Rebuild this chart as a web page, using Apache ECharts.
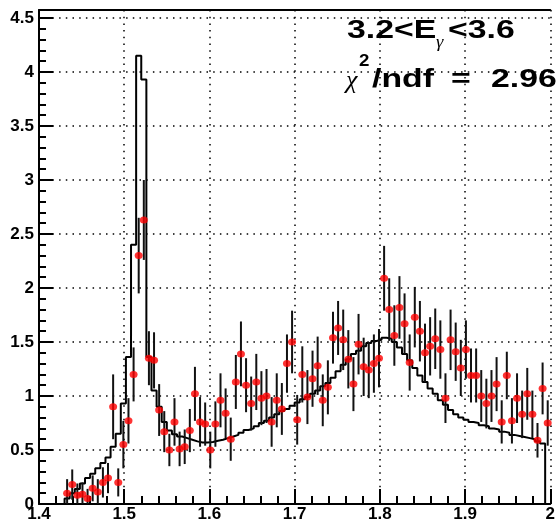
<!DOCTYPE html>
<html>
<head>
<meta charset="utf-8">
<script src="https://cdn.jsdelivr.net/npm/echarts@6/dist/echarts.min.js"></script>
<style>
  html, body { margin: 0; padding: 0; background: #ffffff; }
  #chart { width: 558px; height: 524px; }
</style>
</head>
<body>
<div id="chart"></div>
<script>
// Axis ranges and binning (100 bins of 0.006 between 1.4 and 2.0)
const xMin = 1.4, xMax = 2.0, binWidth = 0.006;
const yMin = 0, yMax = 4.574;
const xMajorStep = 0.1, yMajorStep = 0.5;
const xTickLabels = ['1.4', '1.5', '1.6', '1.7', '1.8', '1.9', '2'];
const yTickLabels = ['0', '0.5', '1', '1.5', '2', '2.5', '3', '3.5', '4', '4.5'];

// Measured data points: first filled bin index, values and errors per bin
const firstPointBin = 5;
const pointValues = [
  0.10, 0.18, 0.08, 0.09, 0.05, 0.145, 0.11, 0.20, 0.24, 0.90,
  0.20, 0.55, 0.77, 1.20, 2.30, 2.63, 1.35, 1.33, 0.87, 0.67,
  0.50, 0.76, 0.51, 0.53, 0.68, 1.02, 0.76, 0.74, 0.50, 0.74,
  0.96, 0.84, 0.60, 1.13, 1.39, 1.10, 0.93, 1.13, 0.98, 1.00,
  0.76, 0.96, 0.88, 1.30, 1.50, 0.78, 1.20, 0.99, 1.16, 1.28,
  0.96, 1.08, 1.54, 1.63, 1.52, 1.34, 1.11, 1.48, 1.27, 1.24,
  1.30, 1.35, 2.09, 1.80, 1.56, 1.82, 1.67, 1.31, 1.73, 1.60,
  1.40, 1.46, 1.53, 1.43, 0.98, 1.52, 1.41, 1.26, 1.43, 1.19,
  1.19, 1.00, 0.93, 1.00, 1.11, 0.76, 1.19, 0.77, 0.98, 0.83,
  1.02, 0.83, 0.59, 1.07, 0.75
];
const pointErrors = [
  0.13, 0.14, 0.11, 0.11, 0.09, 0.12, 0.12, 0.14, 0.14, 0.30,
  0.13, 0.22, 0.21, 0.25, 0.35, 0.37, 0.25, 0.26, 0.24, 0.19,
  0.15, 0.22, 0.16, 0.16, 0.20, 0.25, 0.23, 0.20, 0.17, 0.21,
  0.25, 0.23, 0.20, 0.25, 0.30, 0.25, 0.25, 0.26, 0.25, 0.25,
  0.23, 0.25, 0.24, 0.27, 0.29, 0.23, 0.26, 0.25, 0.26, 0.27,
  0.24, 0.25, 0.24, 0.25, 0.28, 0.27, 0.25, 0.28, 0.27, 0.26,
  0.27, 0.27, 0.30, 0.29, 0.28, 0.29, 0.28, 0.26, 0.28, 0.28,
  0.27, 0.27, 0.28, 0.27, 0.23, 0.28, 0.27, 0.26, 0.27, 0.25,
  0.25, 0.24, 0.23, 0.24, 0.25, 0.20, 0.22, 0.21, 0.23, 0.22,
  0.24, 0.22, 0.16, 0.24, 0.21
];

// Model histogram content for each of the 100 bins
const histValues = [
  0, 0, 0, 0, 0,
  0.05, 0.10, 0.14, 0.19, 0.24, 0.28, 0.33, 0.38, 0.43, 0.53,
  0.65, 0.93, 1.36, 2.40, 4.15, 3.93,
  1.36, 1.05, 0.90, 0.76, 0.68, 0.645, 0.625, 0.61, 0.595, 0.58,
  0.57, 0.57, 0.575, 0.585, 0.595, 0.61, 0.625, 0.64, 0.66,
  0.685, 0.70, 0.72, 0.75, 0.77, 0.80, 0.83, 0.86, 0.88, 0.91,
  0.94, 0.97, 0.99, 1.02, 1.05, 1.09, 1.12, 1.17, 1.23, 1.29,
  1.34, 1.39, 1.42, 1.46, 1.49, 1.51, 1.52, 1.54, 1.53, 1.50,
  1.45, 1.39, 1.33, 1.26, 1.19, 1.13, 1.07, 1.02, 0.96, 0.92,
  0.87, 0.83, 0.80, 0.78, 0.76, 0.75, 0.73, 0.72, 0.70, 0.69,
  0.67, 0.66, 0.64, 0.63, 0.62, 0.61, 0.60, 0.58, 0.56,
  0
];

// ---- derived series data ----
const binCenter = k => +(xMin + (k + 0.5) * binWidth).toFixed(4);
const pointData = pointValues.map((v, i) => [binCenter(firstPointBin + i), v]);
const errorData = pointValues.map((v, i) => [binCenter(firstPointBin + i), v - pointErrors[i], v + pointErrors[i]]);
const histData = histValues.map((v, k) => [+(xMin + k * binWidth).toFixed(4), v]);
histData.push([xMax, histValues[histValues.length - 1]]);

const labelFont = { fontFamily: 'Liberation Sans', fontWeight: 'bold', fontSize: 17, color: '#000' };
const dotted = { color: '#000', width: 1.5, type: [1.5, 5.2] };

// annotation text pieces; the lettering is drawn wide
const bigFont = 'bold 26px "Liberation Sans"';
const note = (x, y, text, font, sx) => ({
  type: 'text', z: 10, x: x, y: y, scaleX: sx,
  style: { x: 0, y: 0, text: text, font: font, fill: '#000', verticalAlign: 'middle', textVerticalAlign: 'middle' }
});

const chart = echarts.init(document.getElementById('chart'), null, { renderer: 'canvas' });
chart.setOption({
  animation: false,
  backgroundColor: '#ffffff',
  grid: { left: 39, top: 10, width: 524, height: 494, containLabel: false },
  xAxis: [
    {
      type: 'value', min: xMin, max: xMax, interval: xMajorStep,
      axisLine: { onZero: false, lineStyle: { color: '#000', width: 2 } },
      axisTick: { inside: true, length: 15, lineStyle: { color: '#000', width: 2 } },
      minorTick: { show: true, splitNumber: 5, length: 8, lineStyle: { color: '#000', width: 2 } },
      axisLabel: Object.assign({
        margin: 2, verticalAlign: 'top',
        formatter: v => xTickLabels[Math.round((v - xMin) / xMajorStep)] || ''
      }, labelFont),
      splitLine: { show: true, lineStyle: dotted }
    },
    {
      // top edge of the frame
      type: 'value', position: 'top', min: xMin, max: xMax,
      axisLine: { show: true, onZero: false, lineStyle: { color: '#000', width: 2 } },
      axisTick: { show: false }, axisLabel: { show: false }, splitLine: { show: false }
    }
  ],
  yAxis: [
    {
      type: 'value', min: yMin, max: yMax, interval: yMajorStep,
      axisLine: { onZero: false, lineStyle: { color: '#000', width: 2 } },
      axisTick: { inside: true, length: 14, lineStyle: { color: '#000', width: 2 } },
      axisLabel: Object.assign({
        margin: 5,
        formatter: v => {
          const i = Math.round((v - yMin) / yMajorStep);
          return Math.abs(v - (yMin + i * yMajorStep)) < 1e-6 ? (yTickLabels[i] || '') : '';
        }
      }, labelFont),
      splitLine: { show: true, lineStyle: dotted }
    },
    {
      // minor ticks every 0.1
      type: 'value', position: 'left', min: yMin, max: yMax, interval: 0.1,
      axisLine: { show: false },
      axisTick: { inside: true, length: 7, lineStyle: { color: '#000', width: 2 } },
      axisLabel: { show: false }, splitLine: { show: false }
    }
  ],
  series: [
    {
      name: 'model', type: 'line', step: 'end', data: histData,
      xAxisIndex: 0, yAxisIndex: 0,
      showSymbol: false, symbol: 'none', clip: true, z: 2,
      lineStyle: { color: '#000', width: 2 }
    },
    {
      name: 'errors', type: 'custom', data: errorData, xAxisIndex: 0, yAxisIndex: 0,
      clip: true, z: 3,
      renderItem: (params, api) => {
        const top = api.coord([api.value(0), api.value(2)]);
        const bot = api.coord([api.value(0), api.value(1)]);
        return {
          type: 'line',
          shape: { x1: top[0], y1: top[1], x2: bot[0], y2: bot[1] },
          style: { stroke: '#111', lineWidth: 2 }
        };
      }
    },
    {
      name: 'data', type: 'scatter', data: pointData, xAxisIndex: 0, yAxisIndex: 0,
      symbol: 'circle', symbolSize: [8, 7], clip: true, z: 4,
      itemStyle: { color: '#ff0000' }
    }
  ],
  graphic: [
    note(347, 31, '3.2<E', bigFont, 1.3),
    note(436, 43, 'γ', 'italic 17px "Liberation Serif"', 1.1),
    note(448, 31, '<3.6', bigFont, 1.3),
    note(346, 81, 'χ', 'italic 26px "Liberation Serif"', 1.0),
    note(359, 61, '2', 'bold 17px "Liberation Sans"', 1.1),
    note(372, 80, '/ndf', bigFont, 1.3),
    note(451, 80, '=', bigFont, 1.3),
    note(491, 80, '2.96', bigFont, 1.3)
  ]
});
</script>
</body>
</html>
